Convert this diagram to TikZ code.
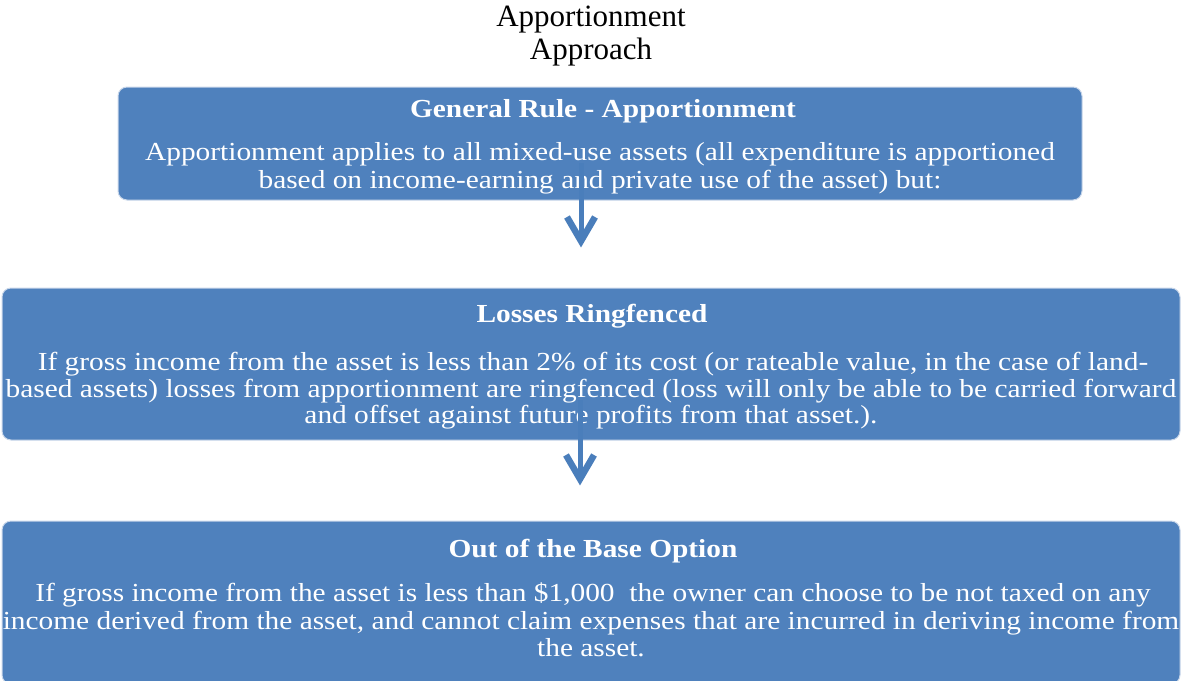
\documentclass[tikz,border=0pt]{standalone}
\usepackage{fontspec}
\setmainfont{Liberation Serif}
\newfontfamily\boxfont[FakeStretch=1.13]{Liberation Serif}
\usetikzlibrary{calc}
\definecolor{boxblue}{HTML}{4F81BD}
\definecolor{arrowblue}{HTML}{4A7EBB}
\definecolor{rimcol}{HTML}{C9D7EA}
\tikzset{
  panel/.style={draw=rimcol, line width=1pt, fill=boxblue, rounded corners=9pt},
  heading/.style={anchor=base, text=white, inner sep=0pt, font=\boxfont\bfseries\fontsize{26}{28}\selectfont},
  bodyline/.style={anchor=base, text=white, inner sep=0pt, font=\boxfont\fontsize{26}{28}\selectfont},
  titleline/.style={anchor=base, text=black, inner sep=0pt, font=\fontsize{31}{32}\selectfont},
  shaft/.style={draw=arrowblue, line width=5pt},
  barb/.style={draw=arrowblue, line width=6.5pt, line join=miter, line cap=butt}
}
\begin{document}
\begin{tikzpicture}[x=1pt,y=-1pt]
\useasboundingbox (0,0) rectangle (1182,680);
% title
\node[titleline] (t1) at (591,27) {Apportionment};
\node[titleline] (t2) at (591,59) {Approach};
% boxes
\path[panel] (118,87) rectangle (1082,200);
\node[inner sep=0pt, minimum width=964pt, minimum height=113pt] (b1) at (600,143.5) {};
\path[panel] (2,288) rectangle (1180,440);
\node[inner sep=0pt, minimum width=1178pt, minimum height=152pt] (b2) at (591,364) {};
\path[panel] (2,521) rectangle (1180,684);
\node[inner sep=0pt, minimum width=1178pt, minimum height=163pt] (b3) at (591,602.5) {};
% box 1 text
\node[heading] (h1) at (603,117) {General Rule - Apportionment};
\node[bodyline] (b1l1) at (600,160) {Apportionment applies to all mixed-use assets (all expenditure is apportioned};
\node[bodyline] (b1l2) at (600,188) {based on income-earning and private use of the asset) but:};
% box 2 text
\node[heading] (h2) at (592,322) {Losses Ringfenced};
\node[bodyline] (b2l1) at (593,370) {If gross income from the asset is less than 2\% of its cost (or rateable value, in the case of land-};
\node[bodyline] (b2l2) at (591,397) {based assets) losses from apportionment are ringfenced (loss will only be able to be carried forward};
\node[bodyline] (b2l3) at (591,423) {and offset against future profits from that asset.).};
% box 3 text
\node[heading] (h3) at (593,557) {Out of the Base Option};
\node[bodyline] (b3l1) at (593,601) {If gross income from the asset is less than \$1,000\ \ the owner can choose to be not taxed on any};
\node[bodyline] (b3l2) at (591,629) {income derived from the asset, and cannot claim expenses that are incurred in deriving income from};
\node[bodyline] (b3l3) at (591,656) {the asset.};
% arrows
\coordinate (s1) at (581,163);
\coordinate (e1) at (581,241);
\draw[shaft] (s1) -- (e1);
\draw[barb] ($(e1)+(-14,-24)$) -- (e1) -- ($(e1)+(14,-24)$);
\coordinate (s2) at (580,400);
\coordinate (e2) at (580,479);
\draw[shaft] (s2) -- (e2);
\draw[barb] ($(e2)+(-14,-24)$) -- (e2) -- ($(e2)+(14,-24)$);
\end{tikzpicture}
\end{document}
